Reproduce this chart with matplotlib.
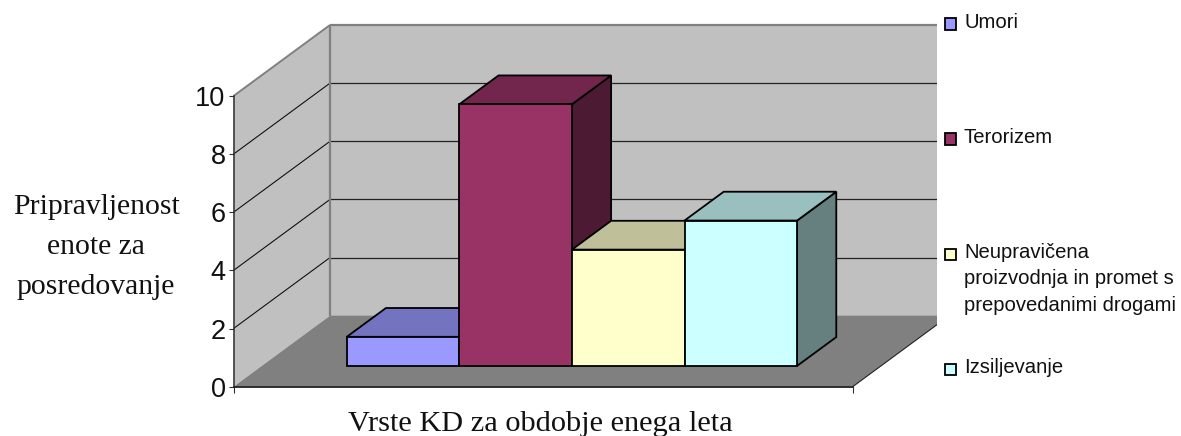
import matplotlib
matplotlib.use("Agg")
import matplotlib.pyplot as plt
from matplotlib.patches import Polygon, Rectangle

categories = ["Umori", "Terorizem",
              "Neupravičena\nproizvodnja in promet s\nprepovedanimi drogami", "Izsiljevanje"]
values = [1, 9, 4, 5]
y_ticks = [0, 2, 4, 6, 8, 10]
front_colors = ["#9999FF", "#993366", "#FFFFCC", "#CCFFFF"]
top_colors = ["#7373BF", "#73264D", "#BFBF99", "#99BFBF"]
side_colors = ["#4D4D80", "#4D1A33", "#80806A", "#668080"]
y_label = "Pripravljenost\nenote za\nposredovanje"
x_label = "Vrste KD za obdobje enega leta"

W, H = 1181, 436
fig = plt.figure(figsize=(W / 100, H / 100), dpi=100)
ax = fig.add_axes([233.5 / W, (H - 386.7) / H, 619.2 / W, 290.7 / H])
ax.set_xlim(0, 5.5)
ax.set_ylim(0, 10)
ax.patch.set_visible(False)

DX = 96.5 / (619.2 / 5.5)   # depth shift in x units
DY = 71.0 / 29.07           # depth shift in y units
D0, D1 = 0.293, 0.699       # bar front / back depth
GAP = 0.755
XEND = 5.5

def P(x, y, d):
    return (x + d * DX, y + d * DY)

clip = Rectangle((0, 0), 937 / W, 1, transform=fig.transFigure)

def poly(pts, z, fc="none", ec="none", lw=0.0, clipped=False):
    p = Polygon(pts, closed=True, facecolor=fc, edgecolor=ec, linewidth=lw,
                zorder=z, joinstyle="miter")
    ax.add_patch(p)
    if clipped:
        p.set_clip_path(clip)
    else:
        p.set_clip_on(False)
    return p

def line(a, b, z, color="black", lw=0.8, clipped=False):
    l, = ax.plot([a[0], b[0]], [a[1], b[1]], color=color, lw=lw, zorder=z,
                 solid_capstyle="butt")
    if clipped:
        l.set_clip_path(clip)
    else:
        l.set_clip_on(False)

top = y_ticks[-1]
# walls
poly([P(0, 0, 1), P(XEND, 0, 1), P(XEND, top, 1), P(0, top, 1)], 1, fc="#C0C0C0", clipped=True)
poly([P(0, 0, 0), P(0, 0, 1), P(0, top, 1), P(0, top, 0)], 1, fc="#C0C0C0")
# gridlines
for t in y_ticks[1:-1]:
    line(P(0, t, 0), P(0, t, 1), 2, color="#111111", lw=0.8)
    line(P(0, t, 1), P(XEND, t, 1), 2, color="#222222", lw=0.9, clipped=True)
# wall borders
line(P(0, top, 0), P(0, top, 1), 2.5, color="#808080", lw=1.4)
line(P(0, top, 1), P(XEND, top, 1), 2.5, color="#808080", lw=1.6, clipped=True)
line(P(0, 0, 1), P(0, top, 1), 2.5, color="#808080", lw=1.6)
# floor
poly([P(0, 0, 0), P(XEND, 0, 0), P(XEND, 0, 1), P(0, 0, 1)], 3, fc="#808080", clipped=True)
line(P(XEND, 0, 0), P(XEND, 0, 1), 3.5, color="#222222", lw=0.8, clipped=True)

# bars
for i, v in enumerate(values):
    z = 5 + i
    x0, x1 = GAP + i, GAP + i + 1
    poly([P(x1, 0, D0), P(x1, 0, D1), P(x1, v, D1), P(x1, v, D0)], z, fc=side_colors[i], ec="black", lw=1.3)
    poly([P(x0, v, D0), P(x1, v, D0), P(x1, v, D1), P(x0, v, D1)], z, fc=top_colors[i], ec="black", lw=1.3)
    base = P(x0, 0, D0)
    bar = ax.bar(base[0], v, width=1, bottom=base[1], align="edge", color=front_colors[i],
                 edgecolor="black", linewidth=1.3, zorder=z + 0.5)
    bar[0].set_clip_on(False)

# axes
for s in ("top", "right"):
    ax.spines[s].set_visible(False)
ax.spines["left"].set_color("#303030")
ax.spines["left"].set_linewidth(1.1)
ax.spines["bottom"].set_color("#202020")
ax.spines["bottom"].set_linewidth(1.3)
ax.spines["left"].set_zorder(4)
ax.spines["bottom"].set_zorder(4)
ax.set_yticks(y_ticks)
ax.set_yticklabels([str(t) for t in y_ticks], fontfamily="Liberation Sans", fontsize=19.5, color="#111111")
ax.set_xticks([0, XEND])
ax.set_xticklabels([])
ax.tick_params(axis="y", length=3.5, width=0.8, color="#303030", pad=2.2)
ax.tick_params(axis="x", length=4.5, width=0.8, color="#303030")

# titles
fig.text(96 / W, 1 - 247 / H, y_label, family="Liberation Serif", fontsize=21.3, ha="center", va="center",
         linespacing=1.72, color="#111111")
fig.text(540 / W, 1 - 424 / H, x_label, family="Liberation Serif", fontsize=21.9, ha="center", va="center",
         color="#111111")

# legend
leg_y = [24, 139, 254, 369]
for c, col, y in zip(categories, front_colors, leg_y):
    fig.add_artist(Rectangle((944.5 / W, 1 - (y + 6) / H), 11.5 / W, 11.5 / H, transform=fig.transFigure,
                             facecolor=col, edgecolor="black", linewidth=1.3))
    fig.text(964 / W, 1 - (y - 11.5) / H, c, family="Liberation Sans", fontsize=14.6, ha="left", va="top",
             linespacing=1.52, color="#111111")

fig.savefig("out.png", dpi=100)
